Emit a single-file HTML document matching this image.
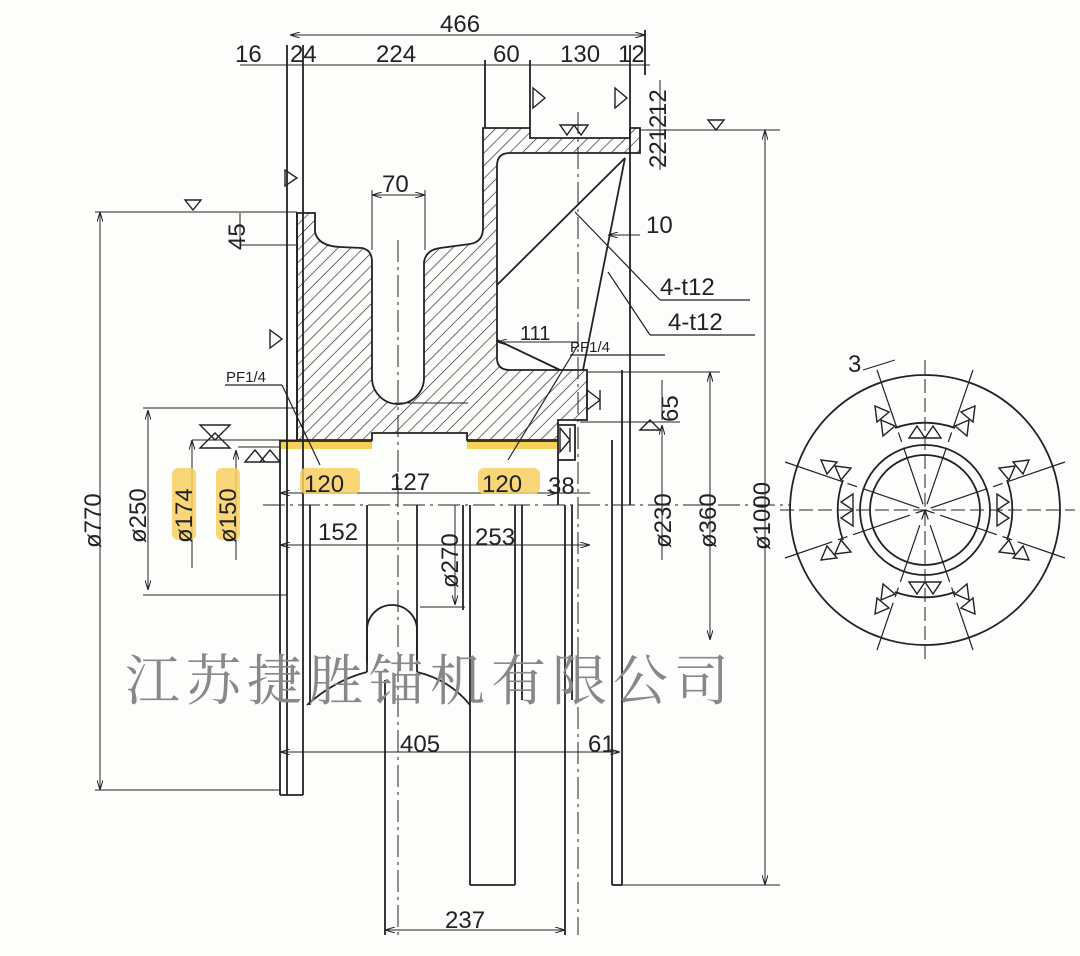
<!DOCTYPE html>
<html><head><meta charset="utf-8"><style>
html,body{margin:0;padding:0;background:#fdfdfc;}
svg{display:block}
text{font-family:"Liberation Sans",sans-serif;fill:#222;}
</style></head><body>
<svg width="1080" height="956" viewBox="0 0 1080 956" xmlns="http://www.w3.org/2000/svg">
<defs>
<pattern id="h" patternUnits="userSpaceOnUse" width="9" height="9" patternTransform="rotate(45)">
<line x1="0" y1="0" x2="0" y2="9" stroke="#222" stroke-width="1.3"/>
</pattern>
<marker id="a" markerWidth="10" markerHeight="6" refX="10" refY="3" orient="auto-start-reverse"><path d="M0,0 L10,3 L0,6" fill="none" stroke="#222" stroke-width="1"/></marker>
</defs>
<rect width="1080" height="956" fill="#fdfdfc"/>
<g stroke="#222" stroke-width="1.8" fill="none">
<path fill="url(#h)" d="M297,213 L315,213 L315,232 Q318,246 340,247 L362,248 Q372,250 372,262 L372,378 A26,26 0 0 0 424,378 L424,262 Q426,250 440,248 L470,244 Q483,242 483,228 L483,128 L530,128 L530,138 L630,138 L630,128 L640,128 L640,153 L510,153 Q497,153 497,166 L497,358 Q497,370 510,370 L587,370 L587,420 L558,420 L558,440 L467,440 L467,433 L372,433 L372,440 L297,440 Z"/>
<line x1="395" y1="403" x2="468" y2="403" stroke-width="1"/>
<rect x="280" y="440" width="92" height="9" fill="#f4c430" stroke="none" opacity="0.8"/>
<rect x="467" y="440" width="90" height="9" fill="#f4c430" stroke="none" opacity="0.8"/>
<line x1="280" y1="441" x2="372" y2="441"/><line x1="467" y1="441" x2="557" y2="441"/>
<line x1="280" y1="440" x2="280" y2="795"/>
<line x1="287" y1="45" x2="287" y2="795"/>
<line x1="297" y1="213" x2="297" y2="440"/>
<line x1="303" y1="45" x2="303" y2="795"/>
<line x1="280" y1="795" x2="303" y2="795"/>
<line x1="310" y1="505" x2="310" y2="705"/>
<line x1="367" y1="505" x2="367" y2="663"/>
<line x1="417" y1="505" x2="417" y2="663"/>
<path d="M367,630 A25,25 0 0 1 417,630"/>
<line x1="367" y1="630" x2="367" y2="672"/><line x1="417" y1="630" x2="417" y2="672"/>
<path d="M307,705 Q335,680 367,672"/><path d="M417,672 Q450,680 470,705"/>
<line x1="385" y1="680" x2="385" y2="935"/>
<line x1="463" y1="505" x2="463" y2="610"/>
<line x1="470" y1="505" x2="470" y2="885"/>
<line x1="515" y1="505" x2="515" y2="885"/>
<line x1="470" y1="885" x2="515" y2="885"/>
<line x1="522" y1="505" x2="522" y2="700"/>
<line x1="565" y1="505" x2="565" y2="935"/>
<line x1="572" y1="505" x2="572" y2="700"/>
<line x1="612" y1="505" x2="612" y2="885"/>
<line x1="622" y1="370" x2="622" y2="885"/>
<line x1="612" y1="885" x2="622" y2="885"/>
<line x1="630" y1="45" x2="630" y2="505"/>
<line x1="645" y1="30" x2="645" y2="75"/>
<line x1="485" y1="60" x2="485" y2="128"/>
<line x1="530" y1="60" x2="530" y2="128"/>
<line x1="612" y1="505" x2="612" y2="440"/>
<line x1="558" y1="440" x2="558" y2="505"/>
<path d="M558,425 L575,425 L575,460 L558,460"/>
<line x1="497" y1="285" x2="625" y2="158"/>
<line x1="625" y1="158" x2="583" y2="370"/>
<line x1="497" y1="340" x2="560" y2="370"/>
<g stroke-width="1.2">
<line x1="575" y1="212" x2="660" y2="300"/><line x1="660" y1="300" x2="750" y2="300"/>
<line x1="608" y1="272" x2="650" y2="335"/><line x1="650" y1="335" x2="755" y2="335"/>
<line x1="578" y1="345" x2="508" y2="460"/>
<line x1="282" y1="385" x2="320" y2="465"/><line x1="225" y1="385" x2="282" y2="385"/>
<line x1="570" y1="355" x2="665" y2="355"/>
</g>
<g stroke-dasharray="22,5,3,5" stroke-width="1">
<line x1="263" y1="505" x2="790" y2="505"/>
<line x1="398" y1="240" x2="398" y2="935"/>
<line x1="578" y1="112" x2="578" y2="935"/>
</g>
<g stroke-width="1">
<line x1="290" y1="35" x2="645" y2="35" marker-start="url(#a)" marker-end="url(#a)"/>
<line x1="240" y1="65" x2="650" y2="65"/>
<line x1="372" y1="195" x2="425" y2="195" marker-start="url(#a)" marker-end="url(#a)"/>
<line x1="372" y1="190" x2="372" y2="250"/><line x1="425" y1="190" x2="425" y2="250"/>
<line x1="100" y1="212" x2="100" y2="790" marker-start="url(#a)" marker-end="url(#a)"/>
<line x1="95" y1="212" x2="297" y2="212"/><line x1="95" y1="790" x2="280" y2="790"/>
<line x1="148" y1="410" x2="148" y2="590" marker-start="url(#a)" marker-end="url(#a)"/>
<line x1="143" y1="408" x2="297" y2="408"/><line x1="143" y1="595" x2="287" y2="595"/>
<line x1="192" y1="440" x2="297" y2="440"/>
<line x1="192" y1="440" x2="192" y2="568" marker-start="url(#a)"/>
<line x1="238" y1="447" x2="280" y2="447"/>
<line x1="236" y1="450" x2="236" y2="560" marker-start="url(#a)"/>
<line x1="240" y1="245" x2="297" y2="245"/><line x1="240" y1="213" x2="240" y2="245"/>
<line x1="280" y1="493" x2="557" y2="493" marker-start="url(#a)" marker-end="url(#a)"/>
<line x1="557" y1="493" x2="590" y2="493"/>
<line x1="280" y1="545" x2="590" y2="545" marker-start="url(#a)" marker-end="url(#a)"/>
<line x1="455" y1="505" x2="455" y2="605" marker-end="url(#a)"/><line x1="420" y1="607" x2="465" y2="607"/>
<line x1="662" y1="425" x2="662" y2="560" marker-start="url(#a)"/>
<line x1="710" y1="372" x2="710" y2="640" marker-start="url(#a)" marker-end="url(#a)"/>
<line x1="587" y1="372" x2="720" y2="372"/>
<line x1="765" y1="130" x2="765" y2="885" marker-start="url(#a)" marker-end="url(#a)"/>
<line x1="640" y1="130" x2="780" y2="130"/><line x1="622" y1="885" x2="780" y2="885"/>
<line x1="280" y1="752" x2="620" y2="752" marker-start="url(#a)" marker-end="url(#a)"/>
<line x1="385" y1="930" x2="565" y2="930" marker-start="url(#a)" marker-end="url(#a)"/>
<line x1="608" y1="235" x2="640" y2="235" marker-start="url(#a)"/>
<line x1="660" y1="80" x2="660" y2="170"/>
<line x1="497" y1="342" x2="578" y2="342" marker-start="url(#a)"/>
<line x1="662" y1="380" x2="662" y2="420"/>
<line x1="580" y1="422" x2="680" y2="422"/>
</g>
<g stroke-width="1.4">
<path d="M560,125 L567,135 L574,125 Z M574,125 L581,135 L588,125 Z"/>
<path d="M708,120 L716,130 L724,120 Z"/>
<path d="M185,200 L193,210 L201,200 Z"/>
<path d="M533,88 L533,108 L545,98 Z M615,88 L615,108 L627,98 Z"/>
<path d="M285,170 L285,186 L297,178 Z"/>
<path d="M270,330 L270,348 L282,339 Z"/>
<path d="M200,425 L230,425 L215,440 Z M200,448 L230,448 L215,433 Z"/>
<path d="M245,462 L255,450 L265,462 Z M260,462 L270,450 L280,462 Z"/>
<path d="M587,390 L600,400 L587,410 Z M600,390 L600,410"/>
<path d="M640,430 L650,420 L660,430 Z"/>
<path d="M560,428 L570,440 L560,452 Z M570,428 L570,452"/>
</g>
<g transform="translate(925,510)">
<circle r="135"/>
<circle r="65"/><circle r="55"/>
<g stroke-dasharray="14,5" stroke-width="1">
<line x1="-145" y1="0" x2="150" y2="0"/><line x1="0" y1="-150" x2="0" y2="150"/>
</g>
<g stroke-width="1.2">
<line x1="-48" y1="-140" x2="48" y2="140" stroke-dasharray="60,6,10,6"/>
<line x1="48" y1="-140" x2="-48" y2="140" stroke-dasharray="60,6,10,6"/>
<line x1="-140" y1="-48" x2="140" y2="48" stroke-dasharray="60,6,10,6"/>
<line x1="140" y1="-48" x2="-140" y2="48" stroke-dasharray="60,6,10,6"/>
</g>
<path d="M-30,-82 A87,87 0 0 1 30,-82"/><path d="M-30,82 A87,87 0 0 0 30,82"/>
<path d="M-82,-30 A87,87 0 0 0 -82,30"/><path d="M82,-30 A87,87 0 0 1 82,30"/>
<g stroke-width="1.4">
<path d="M-16,-72 L-8,-84 L0,-72 Z M0,-72 L8,-84 L16,-72 Z"/>
<path d="M-16,72 L-8,84 L0,72 Z M0,72 L8,84 L16,72 Z"/>
<path d="M-72,-16 L-84,-8 L-72,0 Z M-72,0 L-84,8 L-72,16 Z"/>
<path d="M72,-16 L84,-8 L72,0 Z M72,0 L84,8 L72,16 Z"/>
<g id="lug">
<path d="M-50,-104 L-36,-98 L-48,-88 Z M-44,-90 L-30,-84 L-42,-74 Z"/>
</g>
<use href="#lug" transform="scale(-1,1)"/>
<use href="#lug" transform="scale(1,-1)"/>
<use href="#lug" transform="scale(-1,-1)"/>
<use href="#lug" transform="rotate(-90) scale(-1,1)"/>
<use href="#lug" transform="rotate(-90)"/>
<use href="#lug" transform="rotate(90)"/>
<use href="#lug" transform="rotate(90) scale(-1,1)"/>
</g>
<line x1="-62" y1="-140" x2="-30" y2="-150" stroke-width="1"/>
</g>
</g>
<g font-size="24">
<text x="440" y="32">466</text>
<text x="235" y="62">16</text><text x="290" y="62">24</text><text x="376" y="62">224</text>
<text x="493" y="62">60</text><text x="560" y="62">130</text><text x="618" y="62">12</text>
<text x="382" y="192">70</text>
<text x="646" y="233">10</text>
<text x="660" y="295">4-t12</text>
<text x="668" y="330">4-t12</text>
<text x="520" y="340" font-size="20">111</text>
<text x="570" y="352" font-size="15">PF1/4</text>
<text x="226" y="382" font-size="15">PF1/4</text>
<text x="390" y="490">127</text>
<text x="548" y="494">38</text>
<text x="318" y="540">152</text><text x="475" y="545">253</text>
<text x="400" y="752">405</text><text x="588" y="752">61</text>
<text x="445" y="928">237</text>
<text x="848" y="372">3</text>
</g>
<rect x="300" y="468" width="60" height="26" fill="#f8d060" rx="6" opacity="0.85"/>
<rect x="478" y="468" width="62" height="26" fill="#f8d060" rx="6" opacity="0.85"/>
<text x="304" y="492" font-size="24">120</text><text x="482" y="492" font-size="24">120</text>
<rect x="172" y="468" width="24" height="72" fill="#f8d060" rx="6" opacity="0.85"/>
<rect x="216" y="468" width="24" height="72" fill="#f8d060" rx="6" opacity="0.85"/>
<g font-size="24">
<text transform="translate(101,548) rotate(-90)">ø770</text>
<text transform="translate(146,543) rotate(-90)">ø250</text>
<text transform="translate(192,543) rotate(-90)">ø174</text>
<text transform="translate(236,543) rotate(-90)">ø150</text>
<text transform="translate(458,588) rotate(-90)">ø270</text>
<text transform="translate(671,548) rotate(-90)">ø230</text>
<text transform="translate(716,548) rotate(-90)">ø360</text>
<text transform="translate(770,550) rotate(-90)">ø1000</text>
<text transform="translate(245,250) rotate(-90)">45</text>
<text transform="translate(678,422) rotate(-90)">65</text>
<text transform="translate(666,116) rotate(-90)">12</text>
<text transform="translate(666,168) rotate(-90)">2212</text>
</g>
<text x="125" y="700" font-size="55" style="font-family:'Liberation Serif','Noto Serif CJK SC',serif;fill:#888" letter-spacing="6">江苏捷胜锚机有限公司</text>
</svg>
</body></html>
